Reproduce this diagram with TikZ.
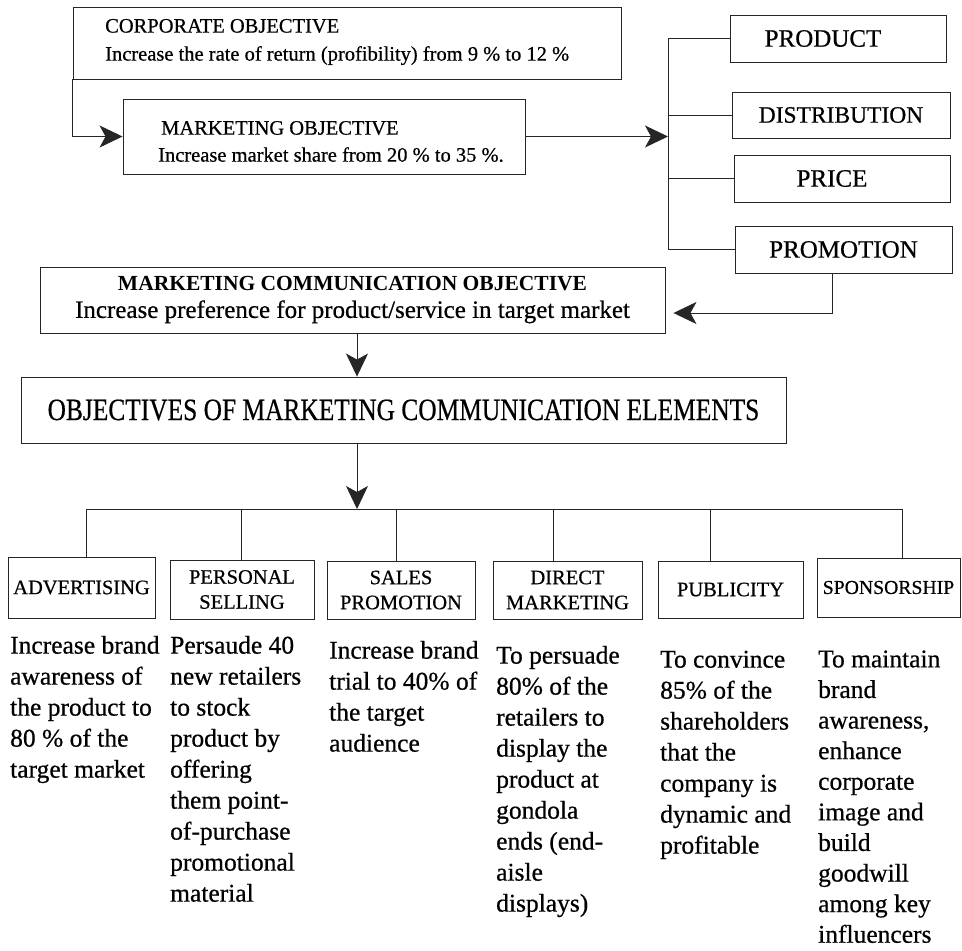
\documentclass[tikz,border=0pt]{standalone}
\usepackage{fontspec}
\usepackage{graphicx}
\setmainfont{Liberation Serif}[UprightFeatures={FakeBold=0.6}]
\usetikzlibrary{arrows.meta,calc}
\begin{document}
\begin{tikzpicture}[x=1pt,y=-1pt,
  box/.style={draw=black!85, line width=0.9pt, inner sep=0pt},
  wire/.style={draw=black!85, line width=0.9pt},
  arr/.style={wire, -{Stealth[length=23pt,width=22pt,inset=6pt]}},
  body/.style={anchor=north west, inner sep=0pt, align=left,
    font=\fontsize{25.5}{31}\selectfont},
  lab/.style={box, align=center, font=\fontsize{20.5}{25}\selectfont},
  mix/.style={box, font=\fontsize{25}{30}\selectfont},
  head/.style={anchor=west, inner sep=0pt, align=left,
    font=\fontsize{20.5}{28}\selectfont}
]
\useasboundingbox (0,0) rectangle (962,951);

% corporate and marketing objectives
\node[box, minimum width=548pt, minimum height=72pt] (corp) at (347,43) {};
\node[head] (corpT) at (105,42)
  {CORPORATE OBJECTIVE\\Increase the rate of return (profibility) from 9 \% to 12 \%};
\node[box, minimum width=402pt, minimum height=75pt] (mkt) at (324,136.5) {};
\node[head, font=\fontsize{20.5}{27}\selectfont] (mktT) at (158,141.5)
  {\hspace*{3pt}MARKETING OBJECTIVE\\Increase market share from 20 \% to 35 \%.};
\draw[arr] (corp.south west) |- (mkt.west);

% marketing mix
\node[mix, minimum width=216pt, minimum height=47pt] (product) at (838,38.5) {\hspace*{-30pt}PRODUCT};
\node[mix, minimum width=218pt, minimum height=46pt, font=\fontsize{23.5}{28}\selectfont]
  (distribution) at (841,115) {DISTRIBUTION};
\node[mix, minimum width=216pt, minimum height=47pt] (price) at (842,178.5) {\hspace*{-20pt}PRICE};
\node[mix, minimum width=217pt, minimum height=47pt] (promotion) at (843.5,249.5) {PROMOTION};
\coordinate (spine) at (668,0);
\draw[wire] (product.west) -- (product.west -| spine) -- (promotion.west -| spine) -- (promotion.west);
\draw[wire] (distribution.west) -- (distribution.west -| spine);
\draw[wire] (price.west) -- (price.west -| spine);
\draw[arr] (mkt.east) -- (mkt.east -| spine);

% marketing communication objective
\node[box, minimum width=625pt, minimum height=66pt, align=center] (mco) at (352.5,300)
  {{\fontsize{21.5}{24}\selectfont\bfseries MARKETING COMMUNICATION OBJECTIVE}\\[8pt]
   {\fontsize{25}{27}\selectfont Increase preference for product/service in target market}};
\coordinate (pdrop) at (832,0);
\draw[arr, shorten >=8pt] (promotion.south -| pdrop) |- ($(mco.east)+(0,13)$);

% objectives of the communication elements
\node[box, minimum width=765pt, minimum height=66pt] (obj) at (403.5,410)
  {\scalebox{0.82}[1]{\fontsize{31}{31}\selectfont OBJECTIVES OF MARKETING COMMUNICATION ELEMENTS}};
\coordinate (ax) at (357,0);
\draw[arr] (mco.south -| ax) -- (obj.north -| ax);

% elements
\node[lab, minimum width=147pt, minimum height=61pt] (adv) at (81.5,587.5) {ADVERTISING};
\node[lab, minimum width=144pt, minimum height=59pt] (pers) at (242,589.5) {PERSONAL\\SELLING};
\node[lab, minimum width=148pt, minimum height=58pt] (sales) at (401,590) {SALES\\PROMOTION};
\node[lab, minimum width=149pt, minimum height=58pt] (direct) at (567.5,590) {DIRECT\\MARKETING};
\node[lab, minimum width=145pt, minimum height=57pt] (pub) at (730.5,589.5) {PUBLICITY};
\node[lab, minimum width=143pt, minimum height=59pt, font=\fontsize{19.7}{24}\selectfont]
  (spon) at (888.5,587.5) {SPONSORSHIP};

\coordinate (d1) at (86,509);
\coordinate (d2) at (241,509);
\coordinate (d3) at (396,509);
\coordinate (d4) at (553,509);
\coordinate (d5) at (710,509);
\coordinate (d6) at (902,509);
\draw[wire] (d1) -- (d6);
\draw[wire] (d1) -- (d1 |- adv.north);
\draw[wire] (d2) -- (d2 |- pers.north);
\draw[wire] (d3) -- (d3 |- sales.north);
\draw[wire] (d4) -- (d4 |- direct.north);
\draw[wire] (d5) -- (d5 |- pub.north);
\draw[wire] (d6) -- (d6 |- spon.north);
\draw[arr] (obj.south -| ax) -- (ax |- d1);

% objectives of each element
\node[body] (t1) at (10,631.7) {\strut Increase brand\\awareness of\\the product to\\80 \% of the\\target market};
\node[body] (t2) at (170,631.7) {\strut Persaude 40\\new retailers\\to stock\\product by\\offering\\them point-\\of-purchase\\promotional\\material};
\node[body] (t3) at (329,636.7) {\strut Increase brand\\trial to 40\% of\\the target\\audience};
\node[body] (t4) at (496,641.7) {\strut To persuade\\80\% of the\\retailers to\\display the\\product at\\gondola\\ends (end-\\aisle\\displays)};
\node[body] (t5) at (660,645.7) {\strut To convince\\85\% of the\\shareholders\\that the\\company is\\dynamic and\\profitable};
\node[body, font=\fontsize{25.5}{30.6}\selectfont] (t6) at (818,645.7) {\strut To maintain\\brand\\awareness,\\enhance\\corporate\\image and\\build\\goodwill\\among key\\influencers};
\end{tikzpicture}
\end{document}
